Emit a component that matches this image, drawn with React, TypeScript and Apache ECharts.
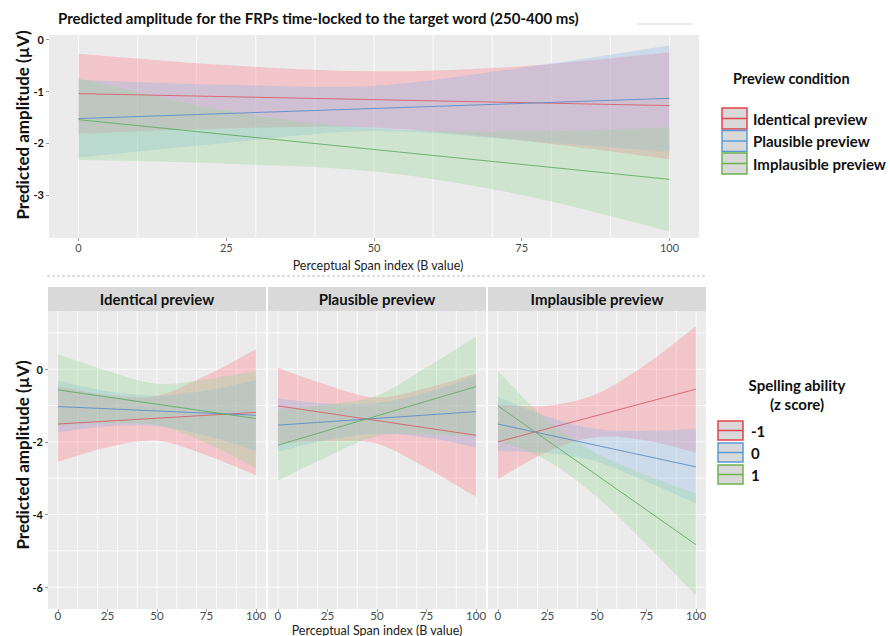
import React, { useEffect, useRef } from "react";
import * as echarts from "echarts";

// ---- data -------------------------------------------------------------
const bValues = [0, 25, 50, 75, 100]; // B values where the confidence bands are sampled
const fitEnds = [0, 100]; // linear fits are straight between these B values

const previewConditions = ["Identical preview", "Plausible preview", "Implausible preview"];
const spellingLevels = ["-1", "0", "1"];

const xTicks = [0, 25, 50, 75, 100];
const topYTicks = [0, -1, -2, -3];
const bottomYTicks = [0, -2, -4, -6];
const xBreaks = [0, 10, 20, 30, 40, 50, 60, 70, 80, 90, 100];
const bottomYBreaks = [1, 0, -1, -2, -3, -4, -5, -6];

// top panel, one row per preview condition (identical, plausible, implausible)
const topFit = [[-1.05, -1.28], [-1.53, -1.14], [-1.55, -2.7]];
const topLower = [
  [-1.82, -1.72, -1.7, -1.95, -2.31],
  [-2.28, -2.0, -1.77, -1.95, -2.17],
  [-2.33, -2.4, -2.55, -3.0, -3.7],
];
const topUpper = [
  [-0.28, -0.5, -0.62, -0.52, -0.25],
  [-0.78, -0.88, -0.9, -0.55, -0.12],
  [-0.75, -1.38, -1.72, -1.78, -1.7],
];

// facets, one row per spelling ability level (-1, 0, 1)
const identicalFit = [[-1.51, -1.19], [-1.03, -1.27], [-0.57, -1.36]];
const identicalLower = [
  [-2.55, -2.15, -1.97, -2.37, -2.92],
  [-1.74, -1.57, -1.57, -1.83, -2.25],
  [-1.55, -1.49, -1.54, -2.04, -2.72],
];
const identicalUpper = [
  [-0.47, -0.71, -0.73, -0.17, 0.55],
  [-0.32, -0.61, -0.73, -0.59, -0.29],
  [0.41, -0.05, -0.4, -0.28, -0.05],
];

const plausibleFit = [[-1.01, -1.82], [-1.54, -1.17], [-2.09, -0.48]];
const plausibleLower = [
  [-2.05, -1.98, -2.05, -2.72, -3.52],
  [-2.27, -1.95, -1.78, -1.88, -2.16],
  [-3.07, -2.41, -1.84, -1.8, -1.86],
];
const plausibleUpper = [
  [0.03, -0.44, -0.78, -0.52, -0.12],
  [-0.81, -0.95, -0.93, -0.64, -0.18],
  [-1.11, -0.97, -0.73, 0.05, 0.9],
];

const implausibleFit = [[-2.0, -0.55], [-1.51, -2.69], [-1.01, -4.83]];
const implausibleLower = [
  [-3.03, -2.27, -1.87, -1.96, -2.3],
  [-2.26, -2.31, -2.55, -3.1, -3.69],
  [-1.97, -2.52, -3.52, -4.83, -6.23],
];
const implausibleUpper = [
  [-0.97, -1.01, -0.68, 0.14, 1.19],
  [-0.76, -1.31, -1.65, -1.7, -1.65],
  [-0.05, -1.42, -2.32, -2.92, -3.43],
];

// ---- styling ------------------------------------------------------------
const FONT = "Lato, 'Open Sans', sans-serif";
const lineColors = ["#D95F69", "#5D8EC6", "#62AD62"];
const bandColors = ["rgba(255,110,125,0.3)", "rgba(140,185,232,0.32)", "rgba(150,215,150,0.32)"];
const keyColors = ["#E0454D", "#5B9BD5", "#6DB350"];
const panelBg = "#EBEBEB";

type Panel = {
  fit: number[][];
  lower: number[][];
  upper: number[][];
  grid: { left: number; top: number; width: number; height: number };
  yMin: number;
  yMax: number;
  yTicks: number[] | null;
  yBreaks: number[];
  xLabelSize: number;
  xLabelMargin: number;
};

const panels: Panel[] = [
  {
    fit: topFit, lower: topLower, upper: topUpper,
    grid: { left: 49, top: 35, width: 650, height: 203 },
    yMin: -3.83, yMax: 0.08, yTicks: topYTicks, yBreaks: [],
    xLabelSize: 11, xLabelMargin: 4,
  },
  {
    fit: identicalFit, lower: identicalLower, upper: identicalUpper,
    grid: { left: 48, top: 311, width: 218, height: 298 },
    yMin: -6.6, yMax: 1.6, yTicks: bottomYTicks, yBreaks: bottomYBreaks,
    xLabelSize: 11.5, xLabelMargin: 1,
  },
  {
    fit: plausibleFit, lower: plausibleLower, upper: plausibleUpper,
    grid: { left: 268, top: 311, width: 218, height: 298 },
    yMin: -6.6, yMax: 1.6, yTicks: null, yBreaks: bottomYBreaks,
    xLabelSize: 11.5, xLabelMargin: 1,
  },
  {
    fit: implausibleFit, lower: implausibleLower, upper: implausibleUpper,
    grid: { left: 488, top: 311, width: 218, height: 298 },
    yMin: -6.6, yMax: 1.6, yTicks: null, yBreaks: bottomYBreaks,
    xLabelSize: 11.5, xLabelMargin: 1,
  },
];

const X_MIN = -5;
const X_MAX = 105;

// Catmull-Rom spline through pixel points, as SVG path commands
function curveThrough(pts: number[][], move: boolean): string {
  let d = `${move ? "M" : "L"}${pts[0][0]},${pts[0][1]}`;
  for (let i = 0; i < pts.length - 1; i++) {
    const p0 = pts[Math.max(i - 1, 0)];
    const p1 = pts[i];
    const p2 = pts[i + 1];
    const p3 = pts[Math.min(i + 2, pts.length - 1)];
    const c1x = p1[0] + (p2[0] - p0[0]) / 6;
    const c1y = p1[1] + (p2[1] - p0[1]) / 6;
    const c2x = p2[0] - (p3[0] - p1[0]) / 6;
    const c2y = p2[1] - (p3[1] - p1[1]) / 6;
    d += ` C${c1x},${c1y} ${c2x},${c2y} ${p2[0]},${p2[1]}`;
  }
  return d;
}

function gridLines(p: Panel, idx: number): any[] {
  const line = (a: number[], b: number[]) => ({
    type: "line",
    shape: { x1: a[0], y1: a[1], x2: b[0], y2: b[1] },
    style: { stroke: "rgba(255,255,255,0.85)", lineWidth: 1 },
  });
  const out: any[] = [
    {
      type: "custom",
      xAxisIndex: idx,
      yAxisIndex: idx,
      z: 1,
      silent: true,
      data: xBreaks.map((v) => [v, p.yMin]),
      encode: { x: 0, y: 1 },
      renderItem: (_params: any, api: any) => {
        const v = api.value(0);
        return line(api.coord([v, p.yMin]), api.coord([v, p.yMax]));
      },
    },
  ];
  if (p.yBreaks.length) {
    out.push({
      type: "custom",
      xAxisIndex: idx,
      yAxisIndex: idx,
      z: 1,
      silent: true,
      data: p.yBreaks.map((v) => [X_MIN, v]),
      encode: { x: 0, y: 1 },
      renderItem: (_params: any, api: any) => {
        const v = api.value(1);
        return line(api.coord([X_MIN, v]), api.coord([X_MAX, v]));
      },
    });
  }
  return out;
}

function bandSeries(p: Panel, idx: number): any[] {
  const out: any[] = [];
  for (let g = 0; g < 3; g++) {
    out.push({
      type: "custom",
      xAxisIndex: idx,
      yAxisIndex: idx,
      z: 2,
      silent: true,
      data: bValues.map((x, i) => [x, p.lower[g][i], p.upper[g][i]]),
      encode: { x: 0, y: [1, 2] },
      renderItem: (params: any, api: any) => {
        if (params.dataIndexInside !== 0) return null;
        const n = params.dataInsideLength;
        const up: number[][] = [];
        const lo: number[][] = [];
        for (let k = 0; k < n; k++) {
          up.push(api.coord([api.value(0, k), api.value(2, k)]));
          lo.push(api.coord([api.value(0, k), api.value(1, k)]));
        }
        lo.reverse();
        const d = curveThrough(up, true) + " " + curveThrough(lo, false) + " Z";
        return { type: "path", shape: { pathData: d }, style: { fill: bandColors[g] } };
      },
    });
  }
  for (let g = 0; g < 3; g++) {
    out.push({
      type: "line",
      xAxisIndex: idx,
      yAxisIndex: idx,
      symbol: "none",
      silent: true,
      z: 3,
      lineStyle: { width: 1, color: lineColors[g], opacity: 0.9 },
      data: fitEnds.map((x, i) => [x, p.fit[g][i]]),
    });
  }
  return out;
}

function legendBlock(x: number, y: number, w: number, h: number, gap: number, labels: string[], labelX: number): any[] {
  const els: any[] = [];
  labels.forEach((lab, i) => {
    const top = y + i * gap;
    els.push({
      type: "rect",
      shape: { x, y: top, width: w, height: h },
      style: { fill: "#D9D9D9", stroke: keyColors[i], lineWidth: 1.5 },
    });
    els.push({
      type: "line",
      shape: { x1: x, y1: top + h / 2, x2: x + w, y2: top + h / 2 },
      style: { stroke: keyColors[i], lineWidth: 1.5 },
    });
    els.push({
      type: "text",
      x: labelX,
      y: top + h / 2,
      style: { text: lab, font: `bold 15px ${FONT}`, fill: "#111", verticalAlign: "middle", align: "left" },
    });
  });
  return els;
}

export default function App() {
  const ref = useRef<HTMLDivElement>(null);

  useEffect(() => {
    document.body.style.margin = "0";
    if (!ref.current) return;
    const chart = echarts.init(ref.current, undefined, { renderer: "svg" });

    const grids = panels.map((p) => ({
      ...p.grid,
      show: true,
      backgroundColor: panelBg,
      borderWidth: 0,
      containLabel: false,
    }));

    const xAxes = panels.map((p, i) => ({
      type: "value",
      gridIndex: i,
      min: X_MIN,
      max: X_MAX,
      position: "bottom",
      axisLine: { show: false, onZero: false },
      splitLine: { show: false },
      axisTick: { show: true, length: 3, customValues: xTicks, lineStyle: { color: "#9A9A9A" } },
      axisLabel: {
        customValues: xTicks,
        fontFamily: FONT,
        fontSize: p.xLabelSize,
        lineHeight: p.xLabelSize,
        color: "#4A4A4A",
        margin: p.xLabelMargin,
      },
    }));

    const yAxes = panels.map((p, i) => ({
      type: "value",
      gridIndex: i,
      min: p.yMin,
      max: p.yMax,
      position: "left",
      axisLine: { show: false, onZero: false },
      splitLine: { show: false },
      axisTick: { show: !!p.yTicks, length: 3, customValues: p.yTicks || [], lineStyle: { color: "#9A9A9A" } },
      axisLabel: {
        show: !!p.yTicks,
        customValues: p.yTicks || [],
        fontFamily: FONT,
        fontSize: 11,
        fontWeight: "bold",
        color: "#111",
        margin: 5,
      },
    }));

    const series: any[] = [];
    panels.forEach((p, i) => {
      series.push(...gridLines(p, i));
      series.push(...bandSeries(p, i));
    });

    const axisTitle = (x: number, y: number) => ({
      type: "text",
      x,
      y,
      style: {
        text: "Perceptual Span index (B value)",
        font: `12.5px ${FONT}`,
        lineHeight: 12,
        fill: "#222",
        align: "center",
        verticalAlign: "middle",
      },
    });
    const yTitle = (y: number) => ({
      type: "text",
      x: 22,
      y,
      rotation: Math.PI / 2,
      style: { text: "Predicted amplitude (µV)", font: `bold 17px ${FONT}`, fill: "#111", align: "center", verticalAlign: "middle" },
    });

    const graphics: any[] = [
      {
        type: "text",
        x: 58,
        y: 18,
        style: {
          text: "Predicted amplitude for the FRPs time-locked to the target word (250-400 ms)",
          font: `bold 15px ${FONT}`,
          fill: "#111",
          verticalAlign: "middle",
        },
      },
      {
        type: "line",
        shape: { x1: 637, y1: 24, x2: 693, y2: 24 },
        style: { stroke: "#E2E2E2", lineWidth: 1.5 },
      },
      yTitle(125),
      yTitle(455),
      axisTitle(378, 265),
      axisTitle(377, 630),
      {
        type: "line",
        shape: { x1: 47, y1: 276, x2: 705, y2: 276 },
        style: { stroke: "#BBBBBB", lineWidth: 1, lineDash: [3, 2] },
      },
      {
        type: "text",
        x: 733,
        y: 78,
        style: { text: "Preview condition", font: `bold 14.5px ${FONT}`, fill: "#111", verticalAlign: "middle" },
      },
      ...legendBlock(722, 108, 25, 21, 22.5, previewConditions, 753),
      {
        type: "text",
        x: 797,
        y: 385,
        style: { text: "Spelling ability", font: `bold 15px ${FONT}`, fill: "#111", align: "center", verticalAlign: "middle" },
      },
      {
        type: "text",
        x: 797,
        y: 404,
        style: { text: "(z score)", font: `bold 15px ${FONT}`, fill: "#111", align: "center", verticalAlign: "middle" },
      },
      ...legendBlock(718, 421, 25, 19, 22, spellingLevels, 751),
    ];

    // facet strips
    panels.slice(1).forEach((p, i) => {
      graphics.push({
        type: "rect",
        shape: { x: p.grid.left, y: 287, width: p.grid.width, height: 24 },
        style: { fill: "#D9D9D9" },
      });
      graphics.push({
        type: "text",
        x: p.grid.left + p.grid.width / 2,
        y: 299,
        style: { text: previewConditions[i], font: `bold 15px ${FONT}`, fill: "#111", align: "center", verticalAlign: "middle" },
      });
    });

    chart.setOption({
      animation: false,
      backgroundColor: "#FFFFFF",
      grid: grids,
      xAxis: xAxes,
      yAxis: yAxes,
      series,
      graphic: graphics,
    });

    return () => chart.dispose();
  }, []);

  return <div ref={ref} style={{ width: 890, height: 636 }} />;
}
